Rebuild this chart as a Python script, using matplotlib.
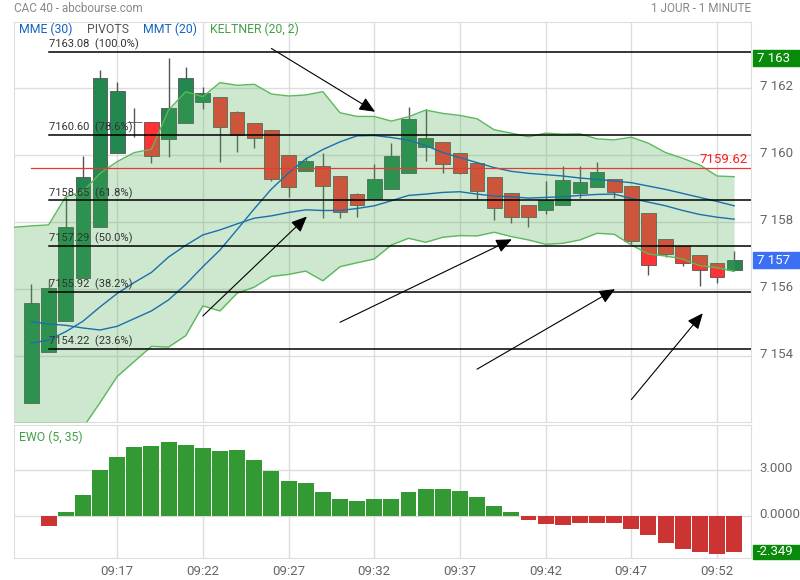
import matplotlib
matplotlib.use('Agg')
import matplotlib.pyplot as plt
import matplotlib.transforms as mtransforms
from matplotlib.patches import Rectangle
import numpy as np

plt.rcParams['font.family'] = ['Roboto', 'DejaVu Sans']

# bougies 1 minute, index 0 = 09:12
opens  = [7152.61, 7154.11, 7155.06, 7156.33, 7157.85, 7160.06, 7161.00, 7160.99, 7160.48, 7160.96,
          7161.60, 7161.73, 7161.29, 7160.96, 7160.76, 7160.00, 7159.52, 7159.67, 7159.37, 7158.84,
          7158.69, 7158.99, 7159.46, 7160.26, 7160.39, 7160.06, 7159.76, 7159.34, 7158.88, 7158.52,
          7158.36, 7158.50, 7158.88, 7159.04, 7159.28, 7159.08, 7158.27, 7157.49, 7157.29, 7157.02,
          7156.78, 7156.56]
closes = [7155.58, 7156.03, 7157.85, 7159.35, 7162.30, 7161.92, 7161.00, 7159.97, 7161.40, 7162.30,
          7161.85, 7160.84, 7160.61, 7160.53, 7159.28, 7159.04, 7159.82, 7159.07, 7158.29, 7158.50,
          7159.28, 7159.98, 7161.08, 7160.51, 7159.73, 7159.46, 7158.94, 7158.42, 7158.15, 7158.17,
          7158.66, 7159.25, 7159.19, 7159.49, 7158.90, 7157.45, 7156.72, 7157.04, 7156.78, 7156.56,
          7156.35, 7156.87]
highs  = [7156.16, 7156.30, 7158.76, 7159.98, 7162.55, 7162.18, 7161.40, 7160.99, 7162.90, 7162.64,
          7162.05, 7161.73, 7161.33, 7160.96, 7160.76, 7160.00, 7159.96, 7160.06, 7159.37, 7158.87,
          7159.74, 7160.36, 7161.45, 7161.37, 7160.39, 7160.06, 7159.76, 7159.34, 7158.88, 7158.52,
          7159.23, 7159.68, 7159.68, 7159.80, 7159.28, 7159.08, 7158.27, 7157.49, 7157.29, 7157.02,
          7156.78, 7157.15]
lows   = [7152.61, 7154.11, 7155.06, 7156.33, 7157.85, 7160.06, 7160.56, 7159.78, 7159.96, 7160.96,
          7161.38, 7159.81, 7160.11, 7160.23, 7159.24, 7158.75, 7159.52, 7158.14, 7158.14, 7158.17,
          7158.69, 7158.99, 7159.46, 7159.84, 7159.48, 7159.43, 7158.69, 7158.07, 7157.99, 7157.87,
          7158.24, 7158.50, 7158.73, 7159.04, 7158.73, 7157.35, 7156.43, 7156.97, 7156.70, 7156.10,
          7156.18, 7156.56]

# Keltner (20, 2) : index -1 .. 41
kelt_x = list(range(-1, 42))
kelt_up = [7157.85, 7157.89, 7157.92, 7158.76, 7158.91, 7159.46, 7159.81, 7160.08, 7160.18, 7161.35,
           7161.90, 7161.75, 7162.17, 7162.09, 7162.12, 7161.83, 7161.77, 7161.80, 7161.90, 7161.27,
           7161.16, 7161.16, 7161.02, 7161.15, 7161.35, 7161.25, 7161.19, 7161.09, 7160.76, 7160.66,
           7160.55, 7160.66, 7160.63, 7160.64, 7160.49, 7160.46, 7160.54, 7160.36, 7160.08, 7159.91,
           7159.71, 7159.38, 7159.36]
kelt_dn = [7149.00, 7149.70, 7150.40, 7151.10, 7151.86, 7152.61, 7153.39, 7153.84, 7154.29, 7154.27,
           7154.61, 7155.50, 7155.35, 7155.88, 7156.06, 7156.38, 7156.44, 7156.54, 7156.25, 7156.67,
           7156.79, 7156.90, 7157.32, 7157.52, 7157.40, 7157.55, 7157.60, 7157.59, 7157.70, 7157.57,
           7157.47, 7157.34, 7157.37, 7157.47, 7157.67, 7157.64, 7157.32, 7157.05, 7156.99, 7156.90,
           7156.70, 7156.64, 7156.53]

mmt20 = [7155.03, 7154.96, 7154.92, 7154.84, 7154.78, 7154.89, 7155.12, 7155.35, 7155.68, 7156.14,
         7156.67, 7157.17, 7157.78, 7158.40, 7158.99, 7159.47, 7159.89, 7160.17, 7160.40, 7160.58,
         7160.59, 7160.53, 7160.45, 7160.29, 7160.08, 7159.93, 7159.78, 7159.63, 7159.52, 7159.46,
         7159.42, 7159.38, 7159.32, 7159.28, 7159.23, 7159.18, 7159.08, 7158.98, 7158.86, 7158.74,
         7158.62, 7158.49]
mme30 = [7154.39, 7154.48, 7154.73, 7155.04, 7155.47, 7155.87, 7156.20, 7156.50, 7156.96, 7157.31,
         7157.62, 7157.77, 7157.95, 7158.12, 7158.19, 7158.29, 7158.37, 7158.35, 7158.35, 7158.41,
         7158.49, 7158.64, 7158.80, 7158.84, 7158.89, 7158.91, 7158.84, 7158.78, 7158.76, 7158.72,
         7158.74, 7158.76, 7158.80, 7158.83, 7158.84, 7158.71, 7158.60, 7158.49, 7158.35, 7158.23,
         7158.15, 7158.09]

ewo = [0.0, -0.66, 0.26, 1.38, 3.02, 3.87, 4.53, 4.60, 4.86, 4.66,
       4.46, 4.27, 4.33, 3.68, 2.95, 2.30, 2.17, 1.58, 1.12, 0.99,
       1.12, 1.12, 1.58, 1.77, 1.77, 1.64, 1.25, 0.66, 0.26, -0.26,
       -0.53, -0.59, -0.46, -0.46, -0.46, -0.85, -1.25, -1.77, -2.17, -2.36,
       -2.49, -2.349]

fib_levels = [7163.08, 7160.60, 7158.65, 7157.29, 7155.92, 7154.22]
fib_pcts = [100.0, 78.6, 61.8, 50.0, 38.2, 23.6]
pivot = 7159.62

# fleches tracees a la main (index, cours)
arrow_start = [(14.0, 7163.19), (10.0, 7155.20), (18.0, 7155.01), (26.0, 7153.61), (35.0, 7152.70)]
arrow_end = [(20.05, 7161.30), (16.07, 7158.17), (28.03, 7157.49), (34.05, 7156.00), (39.17, 7155.28)]

tick_pos = [5, 10, 15, 20, 25, 30, 35, 40]
tick_lab = ['09:17', '09:22', '09:27', '09:32', '09:37', '09:42', '09:47', '09:52']

GREEN_C = '#22884f'
RED_C = '#ff3333'
GRID = '#dddddd'
TXT = '#666666'

fig = plt.figure(figsize=(8, 5.8), dpi=100)
ax = fig.add_axes([0.0179, 0.2729, 0.9212, 0.6897])
ax2 = fig.add_axes([0.0179, 0.0379, 0.9212, 0.2293])

x = np.arange(len(opens))
o = np.array(opens); c = np.array(closes)

# grille
for a in (ax, ax2):
    for s in a.spines.values():
        s.set_color(GRID)
    a.set_xlim(-1, 42)
    a.set_xticks(tick_pos)
    a.grid(True, color=GRID, lw=1, zorder=0)
    a.tick_params(length=0, colors=TXT, labelsize=9.5)
    a.yaxis.tick_right()
    a.set_axisbelow(True)

ax.set_ylim(7152.04, 7163.99)
ax.set_yticks([7154, 7156, 7158, 7160, 7162])
ax.set_yticklabels([f"{v:,}".replace(',', ' ') for v in [7154, 7156, 7158, 7160, 7162]])
ax.set_xticklabels([])
ax.tick_params(axis='y', pad=6)
for lab in ax.get_yticklabels():
    lab.set_transform(lab.get_transform() + mtransforms.ScaledTranslation(0, 3/100, fig.dpi_scale_trans))

# bougies
ax.vlines(x, lows, highs, color='#555555', lw=1, zorder=2)
cols = np.where(c > o, GREEN_C, np.where(c < o, RED_C, 'none'))
ax.bar(x, np.abs(c - o), bottom=np.minimum(o, c), width=0.86, color=cols,
       edgecolor='#555555', linewidth=0.6, zorder=2.5)

# keltner
ax.fill_between(kelt_x, kelt_dn, kelt_up, color='#4caf50', alpha=0.28, lw=0, zorder=3)
ax.plot(kelt_x, kelt_up, color='#5cb85c', lw=1, zorder=4)
ax.plot(kelt_x, kelt_dn, color='#5cb85c', lw=1, zorder=4)

ax.plot(x, mmt20, color='#1a6fad', lw=1, zorder=4)
ax.plot(x, mme30, color='#1a6fad', lw=1, zorder=4)

# fibonacci
for lv, pc in zip(fib_levels, fib_pcts):
    ax.plot([1, 42], [lv, lv], color='black', lw=1.1, zorder=5)
    ax.text(1, lv + 0.05, f"{lv:.2f}  ({pc:.1f}%)", fontsize=8, color='#333333',
            va='bottom', ha='left', zorder=6)

ax.plot([0, 42], [pivot, pivot], color='#e53935', lw=0.9, zorder=5)
ax.text(41.8, pivot + 0.06, f"{pivot:.2f}", fontsize=9.5, color='#ff2020', ha='right', va='bottom', zorder=6)

for s, e in zip(arrow_start, arrow_end):
    ax.annotate('', xy=e, xytext=s,
                arrowprops=dict(arrowstyle='-|>,head_length=0.8,head_width=0.35',
                                color='black', lw=0.8, mutation_scale=12, shrinkA=0, shrinkB=0),
                zorder=7)

# legende
lx = ax.transAxes
ly = 0.981
ax.text(0.007, ly, 'MME (30)', transform=lx, color='#1565c0', fontsize=8.8, va='center')
ax.text(0.099, ly, 'PIVOTS', transform=lx, color='#555555', fontsize=8.8, va='center')
ax.text(0.175, ly, 'MMT (20)', transform=lx, color='#1565c0', fontsize=8.8, va='center')
ax.text(0.266, ly, 'KELTNER (20, 2)', transform=lx, color='#43a047', fontsize=8.8, va='center')

# etiquettes de prix a droite
def price_box(a, y, txt, fc, h):
    t = mtransforms.blended_transform_factory(a.transAxes, a.transData)
    a.add_patch(Rectangle((1.002, y - h / 2), 0.07, h, transform=t, color=fc, clip_on=False, zorder=8))
    a.text(1.008, y, txt, transform=t, color='white', fontsize=9.5, va='center', ha='left',
           clip_on=False, zorder=9)

price_box(ax, max(highs), f"{round(max(highs)):,}".replace(',', ' '), '#0a8a0a', 0.48)
price_box(ax, closes[-1], f"{round(closes[-1]):,}".replace(',', ' '), '#3d6ff5', 0.48)

# EWO
ax2.set_ylim(-2.76, 5.98)
ax2.set_yticks([0, 3])
ax2.set_yticklabels(['0.0000', '3.000'])
ax2.tick_params(axis='y', pad=6)
for lab in ax2.get_yticklabels():
    lab.set_transform(lab.get_transform() + mtransforms.ScaledTranslation(0, 3/100, fig.dpi_scale_trans))
ax2.set_xticklabels(tick_lab)
ax2.tick_params(axis='x', pad=5)
ew = np.array(ewo)
ax2.bar(x, ew, width=0.93, color=np.where(ew >= 0, '#339933', '#cc3333'), zorder=2)
ax2.text(0.007, 0.96, 'EWO (5, 35)', transform=ax2.transAxes, color='#43a047', fontsize=8.8, va='top')
price_box(ax2, ewo[-1], f"{ewo[-1]:.3f}", '#0a8a0a', 0.9)

fig.text(14/800, 1 - 8/580, 'CAC 40 - abcbourse.com', color='#888888', fontsize=8.5, va='center')
fig.text(751/800, 1 - 8/580, '1 JOUR - 1 MINUTE', color='#888888', fontsize=8.5, va='center', ha='right')

fig.savefig('out.png', dpi=100)
